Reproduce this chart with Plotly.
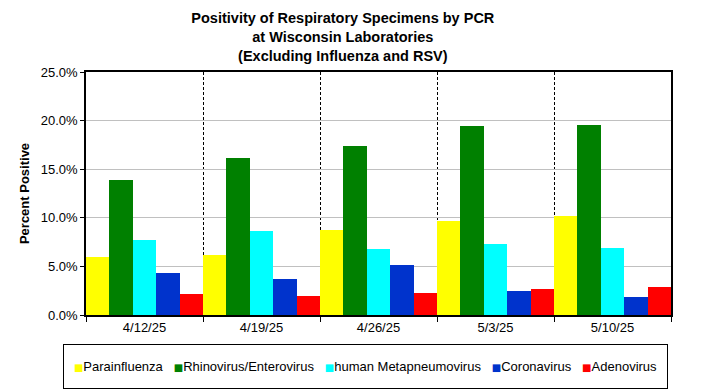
import plotly.graph_objects as go

weeks = ["4/12/25", "4/19/25", "4/26/25", "5/3/25", "5/10/25"]
parainfluenza = [6.0, 6.2, 8.7, 9.7, 10.2]
rhino_entero = [13.9, 16.2, 17.4, 19.4, 19.5]
hmpv = [7.7, 8.6, 6.8, 7.3, 6.9]
coronavirus = [4.3, 3.7, 5.1, 2.5, 1.9]
adenovirus = [2.2, 2.0, 2.3, 2.7, 2.9]

series_names = ["Parainfluenza", "Rhinovirus/Enterovirus", "human Metapneumovirus",
                "Coronavirus", "Adenovirus"]
series_values = [parainfluenza, rhino_entero, hmpv, coronavirus, adenovirus]
series_colors = ["#FFFF00", "#008000", "#00FFFF", "#0033CC", "#FF0000"]

fig = go.Figure()
for name, vals, color in zip(series_names, series_values, series_colors):
    fig.add_trace(go.Bar(x=weeks, y=vals, name=name, marker_color=color,
                         marker_line_width=0, showlegend=False))

font = "Liberation Sans, Arial, sans-serif"

# Compact legend drawn as a single bordered annotation (Excel style)
legend_parts = []
for name, color in zip(series_names, series_colors):
    legend_parts.append(
        f"<span style='color:{color};font-size:10px;font-family:DejaVu Sans'>■</span>{name}"
    )
legend_text = "   ".join(legend_parts)

fig.update_layout(
    width=704, height=391,
    margin=dict(l=86, r=33, t=72, b=76),
    paper_bgcolor="white", plot_bgcolor="white",
    barmode="group", bargap=0, bargroupgap=0,
    font=dict(family=font, size=13, color="black"),
    title=dict(
        text="<b>Positivity of Respiratory Specimens by PCR<br>at Wisconsin Laboratories<br>(Excluding Influenza and RSV)</b>",
        x=0.487, xanchor="center", y=0.94, yanchor="top",
        font=dict(family=font, size=14.5, color="black"),
    ),
    xaxis=dict(
        type="category", tickson="boundaries", ticks="outside", ticklen=5,
        tickcolor="black", showline=True, linecolor="black", linewidth=1.5,
        mirror=True, showgrid=True, gridcolor="black", griddash="3px,2px",
        gridwidth=1, tickfont=dict(size=13), automargin=False,
    ),
    yaxis=dict(
        range=[0, 25], dtick=5, tickformat=".1f", ticksuffix="%",
        ticks="outside", ticklen=4, tickcolor="black",
        showline=True, linecolor="black", linewidth=1.5, mirror=True,
        showgrid=True, gridcolor="#C0C0C0", gridwidth=1, zeroline=False,
        title=dict(text="<b>Percent Positive</b>", font=dict(size=13), standoff=8),
        tickfont=dict(size=13), automargin=False,
    ),
    showlegend=False,
    annotations=[dict(
        text=legend_text, xref="paper", yref="paper",
        x=(365 - 86) / 585, y=(315 - 344) / 243, xanchor="center", yanchor="top",
        showarrow=False, width=601, height=41, align="center", valign="middle",
        bordercolor="black", borderwidth=1, borderpad=1, bgcolor="white",
        font=dict(family=font, size=13, color="black"),
    )],
)
fig.write_html(
    "out.html",
    config={"displayModeBar": False},
    post_script="document.body.style.margin='0';document.body.style.padding='0';",
)
